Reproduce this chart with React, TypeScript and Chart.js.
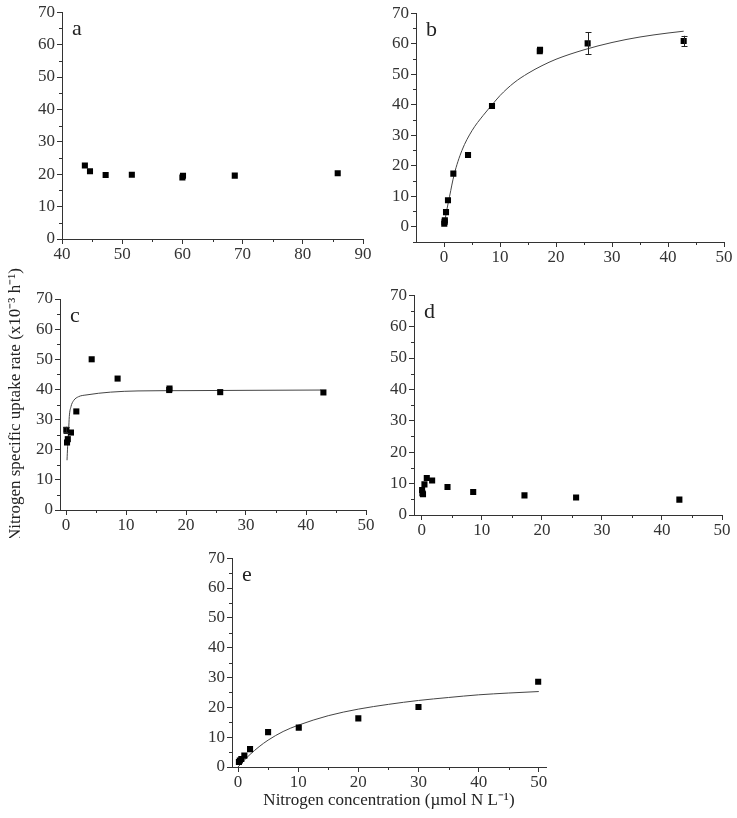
import React, { useEffect, useRef } from "react";
import { Chart, registerables } from "chart.js";
Chart.register(...registerables);

// ---------- data ----------
const yMajor = [0, 10, 20, 30, 40, 50, 60, 70];
const yMinor = [5, 15, 25, 35, 45, 55, 65];
const yMinorB = [-5, 5, 15, 25, 35, 45, 55, 65];
const xMajorA = [40, 50, 60, 70, 80, 90];
const xMinorA = [45, 55, 65, 75, 85];
const xMajor50 = [0, 10, 20, 30, 40, 50];
const xMinor50 = [5, 15, 25, 35, 45];

const aX = [43.8, 44.65, 47.25, 51.6, 60.0, 60.1, 68.7, 85.8];
const aY = [22.7, 20.9, 19.75, 19.85, 19.0, 19.5, 19.55, 20.3];

const bX = [0.05, 0.1, 0.15, 0.36, 0.71, 1.67, 4.29, 8.57, 17.1, 17.15, 25.65, 42.8];
const bY = [1.0, 1.6, 2.1, 4.8, 8.7, 17.4, 23.5, 39.6, 57.5, 58.0, 60.1, 60.9];
const bErr = [0, 0, 0, 0, 0, 0, 0, 0, 0, 0, 3.6, 1.7];
const bCurveX = [0.02, 0.5, 1, 1.8, 3.2, 5, 7, 8.6, 10, 12.5, 15, 17.5, 20, 25, 30, 35, 40, 42.8];
const bCurveY = [0.5, 5.5, 10, 17, 25, 31.5, 36.5, 40, 43, 47.2, 50.3, 52.8, 54.9, 58, 60.4, 62.2, 63.5, 64.1];

const cX = [0.05, 0.17, 0.3, 0.83, 1.72, 4.28, 8.6, 17.2, 17.25, 25.7, 42.9];
const cY = [26.6, 22.4, 23.5, 25.7, 32.7, 50.0, 43.6, 39.8, 40.3, 39.1, 39.0];
const cErr = [1.0, 0, 0, 0, 0, 0, 0, 0, 0, 0, 0];
const cCurveX = [0.17, 0.27, 0.44, 0.55, 0.83, 1.27, 2.1, 3.5, 7.4, 12, 20, 30, 42.5];
const cCurveY = [16.5, 21, 26.6, 31, 34.3, 36.3, 37.6, 38.2, 39.1, 39.5, 39.6, 39.7, 39.8];

const dX = [0.05, 0.1, 0.2, 0.44, 0.83, 1.72, 4.28, 8.56, 17.1, 25.7, 42.9];
const dY = [7.95, 6.9, 6.6, 9.75, 11.8, 11.0, 8.9, 7.3, 6.25, 5.6, 4.9];

const eX = [0.15, 0.3, 0.55, 1.05, 2.0, 5.0, 10.1, 20.0, 30.0, 49.9];
const eY = [1.7, 2.2, 2.7, 3.8, 6.0, 11.7, 13.2, 16.3, 20.1, 28.6];
const eCurveX = [0, 1, 2, 3.5, 5, 7.5, 10, 15, 20, 25, 30, 35, 40, 45, 50];
const eCurveY = [0, 2.2, 4.2, 6.8, 9.0, 11.9, 14.0, 17.2, 19.4, 21.0, 22.3, 23.3, 24.2, 24.8, 25.3];

const yTitle = "Nitrogen specific uptake rate (x10\u207B\u00B3 h\u207B\u00B9)";
const xTitle = "Nitrogen concentration (\u00B5mol N L\u207B\u00B9)";

// ---------- styling ----------
const FONT = "'Liberation Serif', 'Times New Roman', serif";
const AXIS = "#333";
const PR = 14;

type PanelDef = {
  letter: string;
  L: number; T: number; R: number; B: number;
  yW: number; xH: number; pt: number;
  xMin: number; xMax: number; yMin: number; yMax: number;
  xMajor: number[]; xMinor: number[]; yMajor: number[]; yMinor: number[];
  xs: number[]; ys: number[]; err?: number[];
  cx?: number[]; cy?: number[];
  xTitle?: string; yTitle?: string;
};

const panels: PanelDef[] = [
  { letter: "a", L: 62, T: 11, R: 363, B: 239, yW: 45, xH: 28, pt: 11, xMin: 40, xMax: 90, yMin: 0, yMax: 70,
    xMajor: xMajorA, xMinor: xMinorA, yMajor, yMinor, xs: aX, ys: aY },
  { letter: "b", L: 416, T: 13, R: 724, B: 242, yW: 45, xH: 28, pt: 12, xMin: -5, xMax: 50, yMin: -5, yMax: 70,
    xMajor: xMajor50, xMinor: xMinor50, yMajor, yMinor: yMinorB, xs: bX, ys: bY, err: bErr, cx: bCurveX, cy: bCurveY },
  { letter: "c", L: 60, T: 299, R: 366, B: 510, yW: 60, xH: 28, pt: 45, xMin: -1, xMax: 50, yMin: 0, yMax: 70,
    xMajor: xMajor50, xMinor: xMinor50, yMajor, yMinor, xs: cX, ys: cY, err: cErr, cx: cCurveX, cy: cCurveY, yTitle },
  { letter: "d", L: 414, T: 295, R: 722, B: 515, yW: 45, xH: 28, pt: 12, xMin: -1.3, xMax: 50, yMin: 0, yMax: 70,
    xMajor: xMajor50, xMinor: xMinor50, yMajor, yMinor, xs: dX, ys: dY },
  { letter: "e", L: 232, T: 558, R: 546, B: 767, yW: 45, xH: 44, pt: 12, xMin: -1, xMax: 51.2, yMin: 0, yMax: 70,
    xMajor: xMajor50, xMinor: xMinor50, yMajor, yMinor, xs: eX, ys: eY, cx: eCurveX, cy: eCurveY, xTitle },
];

function Panel({ p }: { p: PanelDef }) {
  const ref = useRef<HTMLCanvasElement>(null);
  const w = p.R - p.L + p.yW + PR;
  const h = p.B - p.T + p.pt + p.xH;
  useEffect(() => {
    const datasets: any[] = [
      {
        data: p.xs.map((x, i) => ({ x, y: p.ys[i] })),
        showLine: false,
        pointStyle: "rect",
        pointRadius: 4.3,
        pointBorderWidth: 0,
        pointBackgroundColor: "#000",
        borderColor: "#000",
        order: 1,
      },
    ];
    if (p.cx && p.cy) {
      datasets.push({
        data: p.cx.map((x, i) => ({ x, y: p.cy![i] })),
        showLine: true,
        pointRadius: 0,
        borderColor: "#444",
        borderWidth: 1,
        cubicInterpolationMode: "monotone",
        fill: false,
        order: 2,
      });
    }
    const decor = {
      id: "decor",
      afterDatasetsDraw(chart: any) {
        const ctx = chart.ctx;
        const xs = chart.scales.x;
        const ys = chart.scales.y;
        if (p.err) {
          ctx.save();
          ctx.strokeStyle = "#222";
          ctx.lineWidth = 1;
          p.err.forEach((e, i) => {
            if (!e) return;
            const px = Math.round(xs.getPixelForValue(p.xs[i])) + 0.5;
            const y1 = ys.getPixelForValue(p.ys[i] + e);
            const y2 = ys.getPixelForValue(p.ys[i] - e);
            ctx.beginPath();
            ctx.moveTo(px, y1);
            ctx.lineTo(px, y2);
            ctx.moveTo(px - 3, Math.round(y1) + 0.5);
            ctx.lineTo(px + 3, Math.round(y1) + 0.5);
            ctx.moveTo(px - 3, Math.round(y2) + 0.5);
            ctx.lineTo(px + 3, Math.round(y2) + 0.5);
            ctx.stroke();
          });
          ctx.restore();
        }
      },
      afterDraw(chart: any) {
        const ctx = chart.ctx;
        const ca = chart.chartArea;
        const xs = chart.scales.x;
        const ys = chart.scales.y;
        ctx.save();
        ctx.strokeStyle = AXIS;
        ctx.lineWidth = 1;
        ctx.beginPath();
        p.xMinor.forEach((v) => {
          const px = Math.round(xs.getPixelForValue(v)) + 0.5;
          ctx.moveTo(px, ca.bottom);
          ctx.lineTo(px, ca.bottom + 3);
        });
        p.yMinor.forEach((v) => {
          const py = Math.round(ys.getPixelForValue(v)) + 0.5;
          ctx.moveTo(ca.left - 3, py);
          ctx.lineTo(ca.left, py);
        });
        ctx.stroke();
        ctx.fillStyle = "#222";
        ctx.font = `22px ${FONT}`;
        ctx.textBaseline = "alphabetic";
        ctx.fillText(p.letter, ca.left + 10, ca.top + 23);
        ctx.restore();
      },
    };
    const tickFont = { family: FONT, size: 17 };
    const chart = new Chart(ref.current!, {
      type: "scatter",
      data: { datasets },
      options: {
        animation: false,
        responsive: false,
        maintainAspectRatio: false,
        layout: { padding: { top: p.pt, right: PR, left: 0, bottom: 0 } },
        plugins: { legend: { display: false }, tooltip: { enabled: false } },
        scales: {
          x: {
            type: "linear",
            min: p.xMin,
            max: p.xMax,
            afterBuildTicks: (s: any) => {
              s.ticks = p.xMajor.map((v) => ({ value: v }));
            },
            afterFit: (s: any) => {
              s.height = p.xH;
            },
            ticks: { font: tickFont, color: "#333", padding: 0, autoSkip: false, maxRotation: 0 },
            grid: { display: true, drawOnChartArea: false, drawTicks: true, tickLength: 5, tickColor: AXIS, color: AXIS },
            border: { display: true, color: AXIS, width: 1 },
            title: p.xTitle
              ? { display: true, text: p.xTitle, font: { family: FONT, size: 17 }, color: "#222", padding: { top: 0, bottom: 0 } }
              : { display: false },
          },
          y: {
            type: "linear",
            min: p.yMin,
            max: p.yMax,
            afterBuildTicks: (s: any) => {
              s.ticks = p.yMajor.map((v) => ({ value: v }));
            },
            afterFit: (s: any) => {
              s.width = p.yW;
            },
            ticks: { font: tickFont, color: "#333", padding: 2, autoSkip: false },
            grid: { display: true, drawOnChartArea: false, drawTicks: true, tickLength: 5, tickColor: AXIS, color: AXIS },
            border: { display: true, color: AXIS, width: 1 },
            title: p.yTitle
              ? { display: true, text: p.yTitle, font: { family: FONT, size: 17 }, color: "#222", padding: { top: 5, bottom: 0 } }
              : { display: false },
          },
        },
      } as any,
      plugins: [decor],
    });
    return () => chart.destroy();
  }, []);
  return (
    <canvas
      ref={ref}
      width={w}
      height={h}
      style={{ position: "absolute", left: p.L - p.yW, top: p.T - p.pt, width: w, height: h }}
    />
  );
}

export default function App() {
  return (
    <div style={{ position: "absolute", left: 0, top: 0, width: 737, height: 818, background: "#fff", overflow: "hidden" }}>
      {panels.map((p) => (
        <Panel key={p.letter} p={p} />
      ))}
    </div>
  );
}
